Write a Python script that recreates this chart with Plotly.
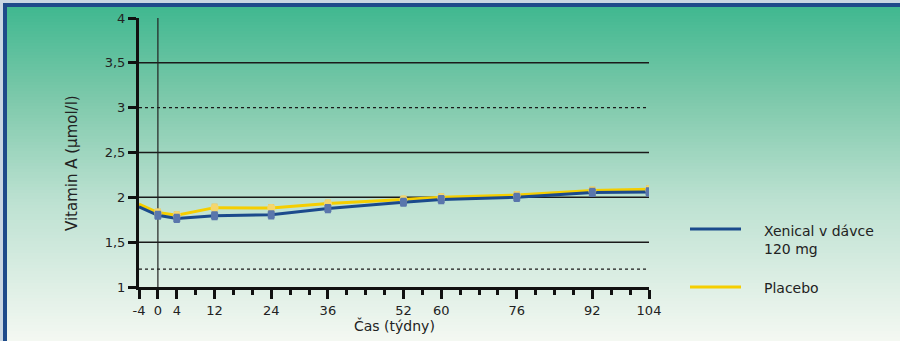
import plotly.graph_objects as go

# Vitamin A over time (weeks), two treatment arms
weeks = [-4, 0, 4, 12, 24, 36, 52, 60, 76, 92, 104]
xenical = [1.895, 1.80, 1.765, 1.795, 1.805, 1.875, 1.945, 1.975, 2.0, 2.055, 2.06]
placebo = [1.925, 1.83, 1.80, 1.885, 1.88, 1.93, 1.975, 2.0, 2.025, 2.075, 2.09]
xenical_err = [0.04] * 10
placebo_err = [0.035] * 10
x_ticks = [-4, 0, 4, 12, 24, 36, 52, 60, 76, 92, 104]
y_ticks = [1, 1.5, 2, 2.5, 3, 3.5, 4]
y_tick_text = ["1", "1,5", "2", "2,5", "3", "3,5", "4"]
solid_lines = [1.5, 2, 2.5, 3.5]
dotted_lines = [1.2, 3]

W, H = 900, 341
ML, MR, MT, MB = 139, 251, 18, 54
PW, PH = W - ML - MR, H - MT - MB

FONT = "DejaVu Sans"
BLUE = "#1B4A8C"
YELLOW = "#F5CE00"
BLUE_MK = "#5A76AC"
YELLOW_MK = "#F4D66E"


def px(x):
    return (x - ML) / PW


def py(y):
    return (H - MB - y) / PH


shapes = []

# frame: light edge, dark blue band, then the gradient panel
shapes.append(dict(type="rect", xref="paper", yref="paper", x0=px(3), x1=px(W + 5),
                   y0=py(H + 5), y1=py(3), fillcolor="#1E4A8A", line_width=0, layer="below"))

stops = [(7, (64, 184, 144)), (100, (126, 201, 171)), (200, (188, 225, 209)), (341, (244, 248, 242))]


def grad(y):
    for (ya, ca), (yb, cb) in zip(stops, stops[1:]):
        if ya <= y <= yb:
            t = (y - ya) / (yb - ya)
            return tuple(round(a + (b - a) * t) for a, b in zip(ca, cb))
    return stops[-1][1]


step = 3
y = 7
while y < H:
    c = grad(y + step / 2)
    shapes.append(dict(type="rect", xref="paper", yref="paper", x0=px(7), x1=px(W + 5),
                       y0=py(min(y + step + 0.6, H + 2)), y1=py(y),
                       fillcolor="rgb(%d,%d,%d)" % c, line_width=0, layer="below"))
    y += step

# horizontal reference lines
for v in solid_lines:
    shapes.append(dict(type="line", xref="x", yref="y", x0=-4, x1=104, y0=v, y1=v,
                       line=dict(color="#1a1a1a", width=1.5), layer="below"))
for v in dotted_lines:
    shapes.append(dict(type="line", xref="x", yref="y", x0=-4, x1=104, y0=v, y1=v,
                       line=dict(color="#1a1a1a", width=1.3, dash="dot"), layer="below"))
# baseline marker at week 0
shapes.append(dict(type="line", xref="x", yref="y", x0=0, x1=0, y0=1, y1=4,
                   line=dict(color="#222", width=1.2), layer="below"))

# legend drawn by hand
shapes.append(dict(type="line", xref="paper", yref="paper", x0=px(690), x1=px(741),
                   y0=py(229), y1=py(229), line=dict(color=BLUE, width=3)))
shapes.append(dict(type="line", xref="paper", yref="paper", x0=px(690), x1=px(741),
                   y0=py(287), y1=py(287), line=dict(color=YELLOW, width=3)))

annotations = [
    dict(text="Xenical v dávce<br>120 mg", xref="paper", yref="paper", x=px(762), y=py(240),
         xanchor="left", yanchor="middle", align="left", showarrow=False,
         font=dict(family=FONT, size=14, color="#222")),
    dict(text="Placebo", xref="paper", yref="paper", x=px(762), y=py(288),
         xanchor="left", yanchor="middle", align="left", showarrow=False,
         font=dict(family=FONT, size=14, color="#222")),
    dict(text="Čas (týdny)", xref="paper", yref="paper", x=px(394), y=py(325),
         xanchor="center", yanchor="middle", showarrow=False,
         font=dict(family=FONT, size=14, color="#222")),
    dict(text="Vitamin A (µmol/l)", xref="paper", yref="paper", x=px(72), y=py(163),
         xanchor="center", yanchor="middle", showarrow=False, textangle=-90,
         font=dict(family=FONT, size=15, color="#222")),
]

fig = go.Figure()

fig.add_trace(go.Scatter(x=weeks, y=placebo, mode="lines",
                         line=dict(color=YELLOW, width=3), hoverinfo="skip", showlegend=False))
fig.add_trace(go.Scatter(x=weeks, y=xenical, mode="lines",
                         line=dict(color=BLUE, width=3), hoverinfo="skip", showlegend=False))
fig.add_trace(go.Scatter(x=weeks[1:], y=placebo[1:], mode="markers",
                         marker=dict(color=YELLOW_MK, size=8, symbol="circle"),
                         error_y=dict(type="data", array=placebo_err, color="#E9C860",
                                      thickness=2, width=3),
                         name="Placebo", showlegend=False))
fig.add_trace(go.Scatter(x=weeks[1:], y=xenical[1:], mode="markers",
                         marker=dict(color=BLUE_MK, size=7, symbol="square"),
                         error_y=dict(type="data", array=xenical_err, color=BLUE_MK,
                                      thickness=2, width=3),
                         name="Xenical v dávce 120 mg", showlegend=False))

fig.update_layout(
    width=W, height=H,
    margin=dict(l=ML, r=MR, t=MT, b=MB, pad=0),
    paper_bgcolor="#C9D6E2",
    plot_bgcolor="rgba(0,0,0,0)",
    shapes=shapes,
    annotations=annotations,
    showlegend=False,
    font=dict(family=FONT, size=13, color="#222"),
    xaxis=dict(
        range=[-4, 104], tickmode="array", tickvals=x_ticks, ticktext=[str(t) for t in x_ticks],
        showgrid=False, zeroline=False, showline=True, linecolor="#111", linewidth=3,
        ticks="outside", ticklen=9, tickwidth=2.5, tickcolor="#111",
        tickfont=dict(family=FONT, size=13, color="#222"),
        minor=dict(tickmode="linear", tick0=0, dtick=4, ticks="outside", ticklen=5,
                   tickwidth=2.5, tickcolor="#111", showgrid=False),
        fixedrange=True,
    ),
    yaxis=dict(
        range=[1, 4], tickmode="array", tickvals=y_ticks, ticktext=y_tick_text,
        showgrid=False, zeroline=False, showline=True, linecolor="#111", linewidth=3,
        ticks="outside", ticklen=8, tickwidth=2.5, tickcolor="#111",
        tickfont=dict(family=FONT, size=13, color="#222"),
        fixedrange=True,
    ),
)

fig.write_html("out.html")
